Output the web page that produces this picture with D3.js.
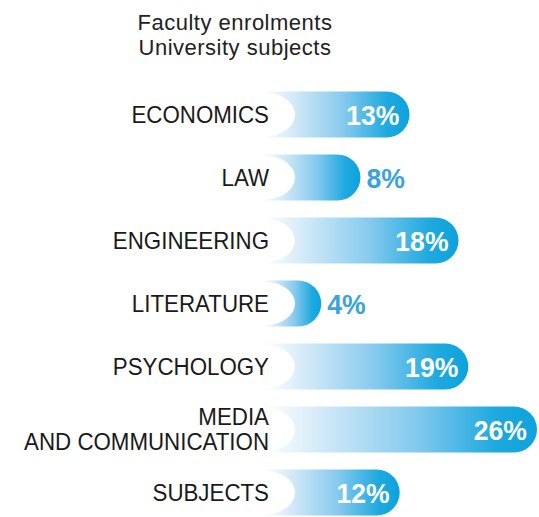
<!DOCTYPE html>
<html>
<head>
<meta charset="utf-8">
<script src="https://cdn.jsdelivr.net/npm/d3@7"></script>
<style>
  body { margin: 0; background: #fff; }
  text { font-family: "Liberation Sans", Arial, sans-serif; }
</style>
</head>
<body>
<div id="chart"></div>
<script>
/* Faculty enrolments - rounded gradient bars */

const subjects = ["ECONOMICS", "LAW", "ENGINEERING", "LITERATURE", "PSYCHOLOGY", "MEDIA\nAND COMMUNICATION", "SUBJECTS"];
const shares = [13, 8, 18, 4, 19, 26, 12];
const titleLines = ["Faculty enrolments", "University subjects"];

const data = subjects.map((s, i) => ({ subject: s, value: shares[i] }));

const width = 539,
      height = 517,
      margin = ({ top: 83, right: 2, bottom: 0, left: 262 });

let svg = d3.select("#chart")
    .append("svg")
    .attr("width", width)
    .attr("height", height);

let x = d3.scaleLinear()
    .domain([0, 26])
    .range([282, width - margin.right]);

let y = d3.scaleBand()
    .domain(subjects)
    .range([margin.top, 524])
    .paddingInner(0.27)
    .paddingOuter(0.135);

// gradient, light on the left to cyan on the right
let grad = svg.append("defs").append("linearGradient")
    .attr("id", "barGrad")
    .attr("x1", 0).attr("x2", 1).attr("y1", 0).attr("y2", 0);
grad.append("stop").attr("offset", 0).attr("stop-color", "#ffffff");
grad.append("stop").attr("offset", 0.2).attr("stop-color", "#d6ebf8");
grad.append("stop").attr("offset", 0.55).attr("stop-color", "#86caee");
grad.append("stop").attr("offset", 0.85).attr("stop-color", "#1ea9df");
grad.append("stop").attr("offset", 1).attr("stop-color", "#0ba3dc");

// title
svg.append("g")
    .selectAll("text")
    .data(titleLines)
    .join("text")
    .attr("x", 235)
    .attr("y", (d, i) => 30 + i * 25)
    .attr("text-anchor", "middle")
    .attr("fill", "#222")
    .style("font-size", "22px")
    .style("letter-spacing", "0.5px")
    .text(d => d);

let bar = svg.selectAll(".bar")
    .data(data)
    .join("g")
    .attr("class", "bar");

// bar shape: square left, round right end
bar.append("path")
    .attr("fill", "url(#barGrad)")
    .attr("d", d => {
        const h = y.bandwidth(), r = h / 2;
        const x0 = margin.left, x1 = x(d.value), y0 = y(d.subject);
        return `M${x0},${y0} H${x1 - r} A${r},${r} 0 0 1 ${x1 - r},${y0 + h} H${x0} Z`;
    });

// white notch on the left of each bar
bar.append("ellipse")
    .attr("cx", margin.left + 2)
    .attr("cy", d => y(d.subject) + y.bandwidth() / 2)
    .attr("rx", 31)
    .attr("ry", y.bandwidth() / 2 - 1)
    .attr("fill", "#fff");

// category labels (narrowed to look condensed)
bar.append("text")
    .attr("text-anchor", "end")
    .attr("fill", "#1a1a1a")
    .style("font-size", "24px")
    .attr("transform", d => {
        const lines = d.subject.split("\n");
        const cy = y(d.subject) + y.bandwidth() / 2;
        return `translate(269,${cy + 8 - (lines.length - 1) * 12.5}) scale(0.93,1)`;
    })
    .each(function(d) {
        d3.select(this).selectAll("tspan")
            .data(d.subject.split("\n"))
            .join("tspan")
            .attr("x", 0)
            .attr("y", (l, i) => i * 25)
            .text(l => l);
    });

// value labels: inside for long bars, outside for short ones
bar.append("text")
    .attr("transform", d => {
        const tx = d.value < 10 ? x(d.value) + 6 : x(d.value) - 10;
        return `translate(${tx},${y(d.subject) + y.bandwidth() / 2 + 10}) scale(0.95,1)`;
    })
    .attr("text-anchor", d => d.value < 10 ? "start" : "end")
    .attr("fill", d => d.value < 10 ? "#3aa3dc" : "#fff")
    .style("font-size", "28px")
    .style("font-weight", "bold")
    .text(d => d.value + "%");
</script>
</body>
</html>
